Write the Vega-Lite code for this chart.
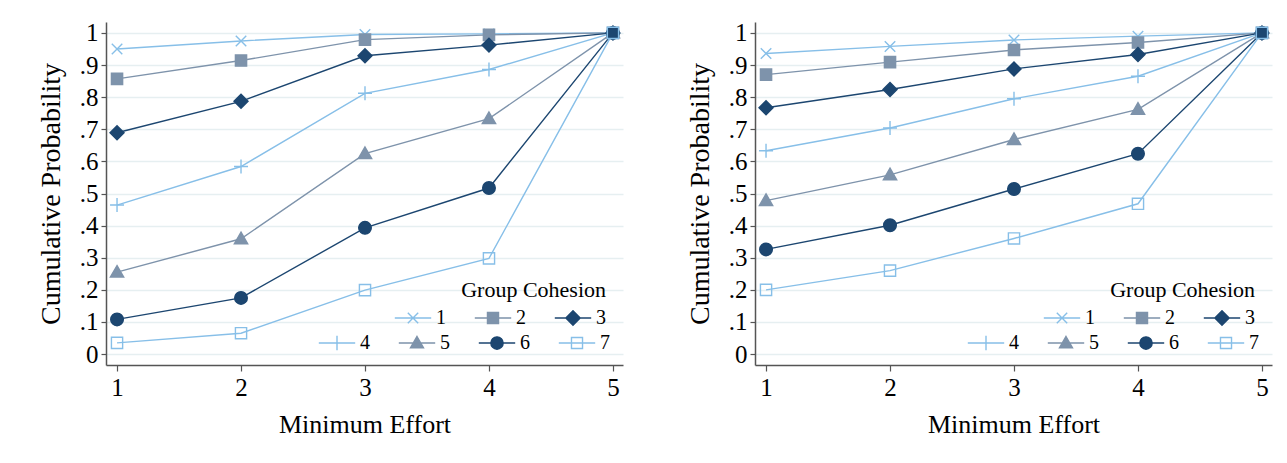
{
  "$schema": "https://vega.github.io/schema/vega-lite/v6.json",
  "background": "white",
  "padding": {"left": 37, "top": 20, "right": 5, "bottom": 5},
  "spacing": 63,
  "datasets": {
    "d": [
      {"panel": "L", "g": "1", "x": 1, "p": 0.950}, {"panel": "L", "g": "1", "x": 2, "p": 0.975}, {"panel": "L", "g": "1", "x": 3, "p": 0.995}, {"panel": "L", "g": "1", "x": 4, "p": 0.997}, {"panel": "L", "g": "1", "x": 5, "p": 1},
      {"panel": "L", "g": "2", "x": 1, "p": 0.857}, {"panel": "L", "g": "2", "x": 2, "p": 0.914}, {"panel": "L", "g": "2", "x": 3, "p": 0.979}, {"panel": "L", "g": "2", "x": 4, "p": 0.994}, {"panel": "L", "g": "2", "x": 5, "p": 1},
      {"panel": "L", "g": "3", "x": 1, "p": 0.689}, {"panel": "L", "g": "3", "x": 2, "p": 0.787}, {"panel": "L", "g": "3", "x": 3, "p": 0.929}, {"panel": "L", "g": "3", "x": 4, "p": 0.962}, {"panel": "L", "g": "3", "x": 5, "p": 1},
      {"panel": "L", "g": "4", "x": 1, "p": 0.464}, {"panel": "L", "g": "4", "x": 2, "p": 0.584}, {"panel": "L", "g": "4", "x": 3, "p": 0.812}, {"panel": "L", "g": "4", "x": 4, "p": 0.886}, {"panel": "L", "g": "4", "x": 5, "p": 1},
      {"panel": "L", "g": "5", "x": 1, "p": 0.255}, {"panel": "L", "g": "5", "x": 2, "p": 0.359}, {"panel": "L", "g": "5", "x": 3, "p": 0.624}, {"panel": "L", "g": "5", "x": 4, "p": 0.733}, {"panel": "L", "g": "5", "x": 5, "p": 1},
      {"panel": "L", "g": "6", "x": 1, "p": 0.108}, {"panel": "L", "g": "6", "x": 2, "p": 0.175}, {"panel": "L", "g": "6", "x": 3, "p": 0.393}, {"panel": "L", "g": "6", "x": 4, "p": 0.517}, {"panel": "L", "g": "6", "x": 5, "p": 1},
      {"panel": "L", "g": "7", "x": 1, "p": 0.035}, {"panel": "L", "g": "7", "x": 2, "p": 0.065}, {"panel": "L", "g": "7", "x": 3, "p": 0.199}, {"panel": "L", "g": "7", "x": 4, "p": 0.298}, {"panel": "L", "g": "7", "x": 5, "p": 1},
      {"panel": "R", "g": "1", "x": 1, "p": 0.936}, {"panel": "R", "g": "1", "x": 2, "p": 0.958}, {"panel": "R", "g": "1", "x": 3, "p": 0.978}, {"panel": "R", "g": "1", "x": 4, "p": 0.990}, {"panel": "R", "g": "1", "x": 5, "p": 1},
      {"panel": "R", "g": "2", "x": 1, "p": 0.870}, {"panel": "R", "g": "2", "x": 2, "p": 0.909}, {"panel": "R", "g": "2", "x": 3, "p": 0.947}, {"panel": "R", "g": "2", "x": 4, "p": 0.970}, {"panel": "R", "g": "2", "x": 5, "p": 1},
      {"panel": "R", "g": "3", "x": 1, "p": 0.767}, {"panel": "R", "g": "3", "x": 2, "p": 0.824}, {"panel": "R", "g": "3", "x": 3, "p": 0.888}, {"panel": "R", "g": "3", "x": 4, "p": 0.933}, {"panel": "R", "g": "3", "x": 5, "p": 1},
      {"panel": "R", "g": "4", "x": 1, "p": 0.633}, {"panel": "R", "g": "4", "x": 2, "p": 0.704}, {"panel": "R", "g": "4", "x": 3, "p": 0.795}, {"panel": "R", "g": "4", "x": 4, "p": 0.865}, {"panel": "R", "g": "4", "x": 5, "p": 1},
      {"panel": "R", "g": "5", "x": 1, "p": 0.478}, {"panel": "R", "g": "5", "x": 2, "p": 0.558}, {"panel": "R", "g": "5", "x": 3, "p": 0.668}, {"panel": "R", "g": "5", "x": 4, "p": 0.762}, {"panel": "R", "g": "5", "x": 5, "p": 1},
      {"panel": "R", "g": "6", "x": 1, "p": 0.326}, {"panel": "R", "g": "6", "x": 2, "p": 0.401}, {"panel": "R", "g": "6", "x": 3, "p": 0.514}, {"panel": "R", "g": "6", "x": 4, "p": 0.624}, {"panel": "R", "g": "6", "x": 5, "p": 1},
      {"panel": "R", "g": "7", "x": 1, "p": 0.200}, {"panel": "R", "g": "7", "x": 2, "p": 0.260}, {"panel": "R", "g": "7", "x": 3, "p": 0.360}, {"panel": "R", "g": "7", "x": 4, "p": 0.468}, {"panel": "R", "g": "7", "x": 5, "p": 1}
    ]
  },
  "config": {
    "font": "Liberation Serif",
    "view": {"stroke": null},
    "axis": {
      "labelFont": "Liberation Serif", "titleFont": "Liberation Serif",
      "labelFontSize": 25, "titleFontSize": 26, "titleFontWeight": "normal",
      "labelColor": "#000", "titleColor": "#000", "labelOverlap": false,
      "domainColor": "#555", "tickColor": "#555", "domainWidth": 1.5, "tickWidth": 1.2,
      "gridColor": "#e6eff1", "gridWidth": 1.5
    },
    "axisY": {"titleFontSize": 28},
    "legend": {
      "labelFont": "Liberation Serif", "titleFont": "Liberation Serif",
      "labelFontSize": 20, "titleFontSize": 22, "titleFontWeight": "normal",
      "labelColor": "#000", "titleColor": "#000", "symbolStrokeWidth": 1.4
    }
  },
  "resolve": {"scale": {"stroke": "independent", "fill": "independent", "shape": "independent"}},
  "hconcat": [
    {
      "width": 517, "height": 343,
      "data": {"name": "d"},
      "transform": [{"filter": "datum.panel == 'L'"}],
      "resolve": {"scale": {"stroke": "independent", "fill": "independent", "shape": "independent"}},
      "encoding": {
        "x": {"field": "x", "type": "quantitative", "scale": {"domain": [0.911, 5.081], "nice": false, "zero": false}, "axis": {"title": "Minimum Effort", "values": [1, 2, 3, 4, 5], "format": "d", "grid": false, "tickSize": 6, "labelPadding": 4, "titlePadding": 11, "labelOverlap": false}},
        "y": {"field": "p", "type": "quantitative", "scale": {"domain": [-0.034, 1.034], "nice": false, "zero": false}, "axis": {"title": "Cumulative Probability", "values": [0, 0.1, 0.2, 0.3, 0.4, 0.5, 0.6, 0.7, 0.8, 0.9, 1], "labelExpr": "datum.value == 0 ? '0' : datum.value == 1 ? '1' : replace(format(datum.value, '.1f'), '0.', '.')", "tickSize": 5, "labelPadding": 3, "titlePadding": 14, "grid": true, "labelOverlap": false}}
      },
      "layer": [
        {
          "transform": [{"filter": {"field": "g", "oneOf": ["1", "2", "3"]}}],
          "layer": [
            {
              "mark": {"type": "line", "strokeWidth": 1.4},
              "encoding": {
                "stroke": {"field": "g", "type": "nominal", "scale": {"domain": ["1", "2", "3"], "range": ["#87bfe8", "#7e93ab", "#1c4670"]}, "legend": {"title": "Group Cohesion", "orient": "none", "legendX": 297, "legendY": 258, "columns": 3, "titleAnchor": "end", "symbolSize": 169, "labelOffset": 13, "columnPadding": 26, "padding": 0, "titlePadding": 6, "encode": {"symbols": {"update": {"shape": {"signal": "datum.value == '1' ? 'M-2.8,0H2.8M-0.8,-0.8L0.8,0.8M-0.8,0.8L0.8,-0.8' : datum.value == '2' ? 'M-2.8,0H2.8M-0.85,-0.85H0.85V0.85H-0.85Z' : 'M-2.8,0H2.8M0,-1.1L1.1,0L0,1.1L-1.1,0Z'"}}}}}}
              }
            },
            {
              "mark": {"type": "point", "opacity": 1, "strokeWidth": 1.4, "size": 196},
              "encoding": {
                "stroke": {"field": "g", "type": "nominal", "scale": {"domain": ["1", "2", "3"], "range": ["#87bfe8", "#7e93ab", "#1c4670"]}, "legend": {"title": "Group Cohesion", "orient": "none", "legendX": 297, "legendY": 258, "columns": 3, "titleAnchor": "end", "symbolSize": 169, "labelOffset": 13, "columnPadding": 26, "padding": 0, "titlePadding": 6, "encode": {"symbols": {"update": {"shape": {"signal": "datum.value == '1' ? 'M-2.8,0H2.8M-0.8,-0.8L0.8,0.8M-0.8,0.8L0.8,-0.8' : datum.value == '2' ? 'M-2.8,0H2.8M-0.85,-0.85H0.85V0.85H-0.85Z' : 'M-2.8,0H2.8M0,-1.1L1.1,0L0,1.1L-1.1,0Z'"}}}}}},
                "fill": {"field": "g", "type": "nominal", "scale": {"domain": ["1", "2", "3"], "range": ["transparent", "#7e93ab", "#1c4670"]}, "legend": {"title": "Group Cohesion", "orient": "none", "legendX": 297, "legendY": 258, "columns": 3, "titleAnchor": "end", "symbolSize": 169, "labelOffset": 13, "columnPadding": 26, "padding": 0, "titlePadding": 6, "encode": {"symbols": {"update": {"shape": {"signal": "datum.value == '1' ? 'M-2.8,0H2.8M-0.8,-0.8L0.8,0.8M-0.8,0.8L0.8,-0.8' : datum.value == '2' ? 'M-2.8,0H2.8M-0.85,-0.85H0.85V0.85H-0.85Z' : 'M-2.8,0H2.8M0,-1.1L1.1,0L0,1.1L-1.1,0Z'"}}}}}},
                "shape": {"field": "g", "type": "nominal", "scale": {"domain": ["1", "2", "3", "z"], "range": ["M-0.75,-0.75L0.75,0.75M-0.75,0.75L0.75,-0.75", "M-0.8,-0.8H0.8V0.8H-0.8Z", "M0,-1L1,0L0,1L-1,0Z", "circle"]}, "legend": null}
              }
            }
          ]
        },
        {
          "transform": [{"filter": {"field": "g", "oneOf": ["4", "5", "6", "7"]}}],
          "layer": [
            {
              "mark": {"type": "line", "strokeWidth": 1.4},
              "encoding": {
                "stroke": {"field": "g", "type": "nominal", "scale": {"domain": ["4", "5", "6", "7"], "range": ["#87bfe8", "#7e93ab", "#1c4670", "#87bfe8"]}, "legend": {"title": null, "orient": "none", "legendX": 221, "legendY": 311, "columns": 4, "symbolSize": 169, "labelOffset": 13, "columnPadding": 26, "padding": 0, "encode": {"symbols": {"update": {"shape": {"signal": "datum.value == '4' ? 'M-2.8,0H2.8M0,-1.1V1.1' : datum.value == '5' ? 'M-2.8,0H2.8M0,-1L1,0.75H-1Z' : datum.value == '6' ? 'M-2.8,0H2.8M0.95,0A0.95,0.95,0,1,1,-0.95,0A0.95,0.95,0,1,1,0.95,0Z' : 'M-2.8,0H2.8M-0.85,-0.85H0.85V0.85H-0.85Z'"}}}}}}
              }
            },
            {
              "mark": {"type": "point", "opacity": 1, "strokeWidth": 1.4, "size": 196},
              "encoding": {
                "stroke": {"field": "g", "type": "nominal", "scale": {"domain": ["4", "5", "6", "7"], "range": ["#87bfe8", "#7e93ab", "#1c4670", "#87bfe8"]}, "legend": {"title": null, "orient": "none", "legendX": 221, "legendY": 311, "columns": 4, "symbolSize": 169, "labelOffset": 13, "columnPadding": 26, "padding": 0, "encode": {"symbols": {"update": {"shape": {"signal": "datum.value == '4' ? 'M-2.8,0H2.8M0,-1.1V1.1' : datum.value == '5' ? 'M-2.8,0H2.8M0,-1L1,0.75H-1Z' : datum.value == '6' ? 'M-2.8,0H2.8M0.95,0A0.95,0.95,0,1,1,-0.95,0A0.95,0.95,0,1,1,0.95,0Z' : 'M-2.8,0H2.8M-0.85,-0.85H0.85V0.85H-0.85Z'"}}}}}},
                "fill": {"field": "g", "type": "nominal", "scale": {"domain": ["4", "5", "6", "7"], "range": ["transparent", "#7e93ab", "#1c4670", "transparent"]}, "legend": {"title": null, "orient": "none", "legendX": 221, "legendY": 311, "columns": 4, "symbolSize": 169, "labelOffset": 13, "columnPadding": 26, "padding": 0, "encode": {"symbols": {"update": {"shape": {"signal": "datum.value == '4' ? 'M-2.8,0H2.8M0,-1.1V1.1' : datum.value == '5' ? 'M-2.8,0H2.8M0,-1L1,0.75H-1Z' : datum.value == '6' ? 'M-2.8,0H2.8M0.95,0A0.95,0.95,0,1,1,-0.95,0A0.95,0.95,0,1,1,0.95,0Z' : 'M-2.8,0H2.8M-0.85,-0.85H0.85V0.85H-0.85Z'"}}}}}},
                "shape": {"field": "g", "type": "nominal", "scale": {"domain": ["4", "5", "6", "7", "z"], "range": ["M-1,0H1M0,-1V1", "M0,-0.95L0.95,0.7H-0.95Z", "M0.9,0A0.9,0.9,0,1,1,-0.9,0A0.9,0.9,0,1,1,0.9,0Z", "M-0.8,-0.8H0.8V0.8H-0.8Z", "circle"]}, "legend": null}
              }
            }
          ]
        }
      ]
    },
    {
      "width": 517, "height": 343,
      "data": {"name": "d"},
      "transform": [{"filter": "datum.panel == 'R'"}],
      "resolve": {"scale": {"stroke": "independent", "fill": "independent", "shape": "independent"}},
      "encoding": {
        "x": {"field": "x", "type": "quantitative", "scale": {"domain": [0.911, 5.081], "nice": false, "zero": false}, "axis": {"title": "Minimum Effort", "values": [1, 2, 3, 4, 5], "format": "d", "grid": false, "tickSize": 6, "labelPadding": 4, "titlePadding": 11, "labelOverlap": false}},
        "y": {"field": "p", "type": "quantitative", "scale": {"domain": [-0.034, 1.034], "nice": false, "zero": false}, "axis": {"title": "Cumulative Probability", "values": [0, 0.1, 0.2, 0.3, 0.4, 0.5, 0.6, 0.7, 0.8, 0.9, 1], "labelExpr": "datum.value == 0 ? '0' : datum.value == 1 ? '1' : replace(format(datum.value, '.1f'), '0.', '.')", "tickSize": 5, "labelPadding": 3, "titlePadding": 14, "grid": true, "labelOverlap": false}}
      },
      "layer": [
        {
          "transform": [{"filter": {"field": "g", "oneOf": ["1", "2", "3"]}}],
          "layer": [
            {
              "mark": {"type": "line", "strokeWidth": 1.4},
              "encoding": {
                "stroke": {"field": "g", "type": "nominal", "scale": {"domain": ["1", "2", "3"], "range": ["#87bfe8", "#7e93ab", "#1c4670"]}, "legend": {"title": "Group Cohesion", "orient": "none", "legendX": 297, "legendY": 258, "columns": 3, "titleAnchor": "end", "symbolSize": 169, "labelOffset": 13, "columnPadding": 26, "padding": 0, "titlePadding": 6, "encode": {"symbols": {"update": {"shape": {"signal": "datum.value == '1' ? 'M-2.8,0H2.8M-0.8,-0.8L0.8,0.8M-0.8,0.8L0.8,-0.8' : datum.value == '2' ? 'M-2.8,0H2.8M-0.85,-0.85H0.85V0.85H-0.85Z' : 'M-2.8,0H2.8M0,-1.1L1.1,0L0,1.1L-1.1,0Z'"}}}}}}
              }
            },
            {
              "mark": {"type": "point", "opacity": 1, "strokeWidth": 1.4, "size": 196},
              "encoding": {
                "stroke": {"field": "g", "type": "nominal", "scale": {"domain": ["1", "2", "3"], "range": ["#87bfe8", "#7e93ab", "#1c4670"]}, "legend": {"title": "Group Cohesion", "orient": "none", "legendX": 297, "legendY": 258, "columns": 3, "titleAnchor": "end", "symbolSize": 169, "labelOffset": 13, "columnPadding": 26, "padding": 0, "titlePadding": 6, "encode": {"symbols": {"update": {"shape": {"signal": "datum.value == '1' ? 'M-2.8,0H2.8M-0.8,-0.8L0.8,0.8M-0.8,0.8L0.8,-0.8' : datum.value == '2' ? 'M-2.8,0H2.8M-0.85,-0.85H0.85V0.85H-0.85Z' : 'M-2.8,0H2.8M0,-1.1L1.1,0L0,1.1L-1.1,0Z'"}}}}}},
                "fill": {"field": "g", "type": "nominal", "scale": {"domain": ["1", "2", "3"], "range": ["transparent", "#7e93ab", "#1c4670"]}, "legend": {"title": "Group Cohesion", "orient": "none", "legendX": 297, "legendY": 258, "columns": 3, "titleAnchor": "end", "symbolSize": 169, "labelOffset": 13, "columnPadding": 26, "padding": 0, "titlePadding": 6, "encode": {"symbols": {"update": {"shape": {"signal": "datum.value == '1' ? 'M-2.8,0H2.8M-0.8,-0.8L0.8,0.8M-0.8,0.8L0.8,-0.8' : datum.value == '2' ? 'M-2.8,0H2.8M-0.85,-0.85H0.85V0.85H-0.85Z' : 'M-2.8,0H2.8M0,-1.1L1.1,0L0,1.1L-1.1,0Z'"}}}}}},
                "shape": {"field": "g", "type": "nominal", "scale": {"domain": ["1", "2", "3", "z"], "range": ["M-0.75,-0.75L0.75,0.75M-0.75,0.75L0.75,-0.75", "M-0.8,-0.8H0.8V0.8H-0.8Z", "M0,-1L1,0L0,1L-1,0Z", "circle"]}, "legend": null}
              }
            }
          ]
        },
        {
          "transform": [{"filter": {"field": "g", "oneOf": ["4", "5", "6", "7"]}}],
          "layer": [
            {
              "mark": {"type": "line", "strokeWidth": 1.4},
              "encoding": {
                "stroke": {"field": "g", "type": "nominal", "scale": {"domain": ["4", "5", "6", "7"], "range": ["#87bfe8", "#7e93ab", "#1c4670", "#87bfe8"]}, "legend": {"title": null, "orient": "none", "legendX": 221, "legendY": 311, "columns": 4, "symbolSize": 169, "labelOffset": 13, "columnPadding": 26, "padding": 0, "encode": {"symbols": {"update": {"shape": {"signal": "datum.value == '4' ? 'M-2.8,0H2.8M0,-1.1V1.1' : datum.value == '5' ? 'M-2.8,0H2.8M0,-1L1,0.75H-1Z' : datum.value == '6' ? 'M-2.8,0H2.8M0.95,0A0.95,0.95,0,1,1,-0.95,0A0.95,0.95,0,1,1,0.95,0Z' : 'M-2.8,0H2.8M-0.85,-0.85H0.85V0.85H-0.85Z'"}}}}}}
              }
            },
            {
              "mark": {"type": "point", "opacity": 1, "strokeWidth": 1.4, "size": 196},
              "encoding": {
                "stroke": {"field": "g", "type": "nominal", "scale": {"domain": ["4", "5", "6", "7"], "range": ["#87bfe8", "#7e93ab", "#1c4670", "#87bfe8"]}, "legend": {"title": null, "orient": "none", "legendX": 221, "legendY": 311, "columns": 4, "symbolSize": 169, "labelOffset": 13, "columnPadding": 26, "padding": 0, "encode": {"symbols": {"update": {"shape": {"signal": "datum.value == '4' ? 'M-2.8,0H2.8M0,-1.1V1.1' : datum.value == '5' ? 'M-2.8,0H2.8M0,-1L1,0.75H-1Z' : datum.value == '6' ? 'M-2.8,0H2.8M0.95,0A0.95,0.95,0,1,1,-0.95,0A0.95,0.95,0,1,1,0.95,0Z' : 'M-2.8,0H2.8M-0.85,-0.85H0.85V0.85H-0.85Z'"}}}}}},
                "fill": {"field": "g", "type": "nominal", "scale": {"domain": ["4", "5", "6", "7"], "range": ["transparent", "#7e93ab", "#1c4670", "transparent"]}, "legend": {"title": null, "orient": "none", "legendX": 221, "legendY": 311, "columns": 4, "symbolSize": 169, "labelOffset": 13, "columnPadding": 26, "padding": 0, "encode": {"symbols": {"update": {"shape": {"signal": "datum.value == '4' ? 'M-2.8,0H2.8M0,-1.1V1.1' : datum.value == '5' ? 'M-2.8,0H2.8M0,-1L1,0.75H-1Z' : datum.value == '6' ? 'M-2.8,0H2.8M0.95,0A0.95,0.95,0,1,1,-0.95,0A0.95,0.95,0,1,1,0.95,0Z' : 'M-2.8,0H2.8M-0.85,-0.85H0.85V0.85H-0.85Z'"}}}}}},
                "shape": {"field": "g", "type": "nominal", "scale": {"domain": ["4", "5", "6", "7", "z"], "range": ["M-1,0H1M0,-1V1", "M0,-0.95L0.95,0.7H-0.95Z", "M0.9,0A0.9,0.9,0,1,1,-0.9,0A0.9,0.9,0,1,1,0.9,0Z", "M-0.8,-0.8H0.8V0.8H-0.8Z", "circle"]}, "legend": null}
              }
            }
          ]
        }
      ]
    }
  ]
}
